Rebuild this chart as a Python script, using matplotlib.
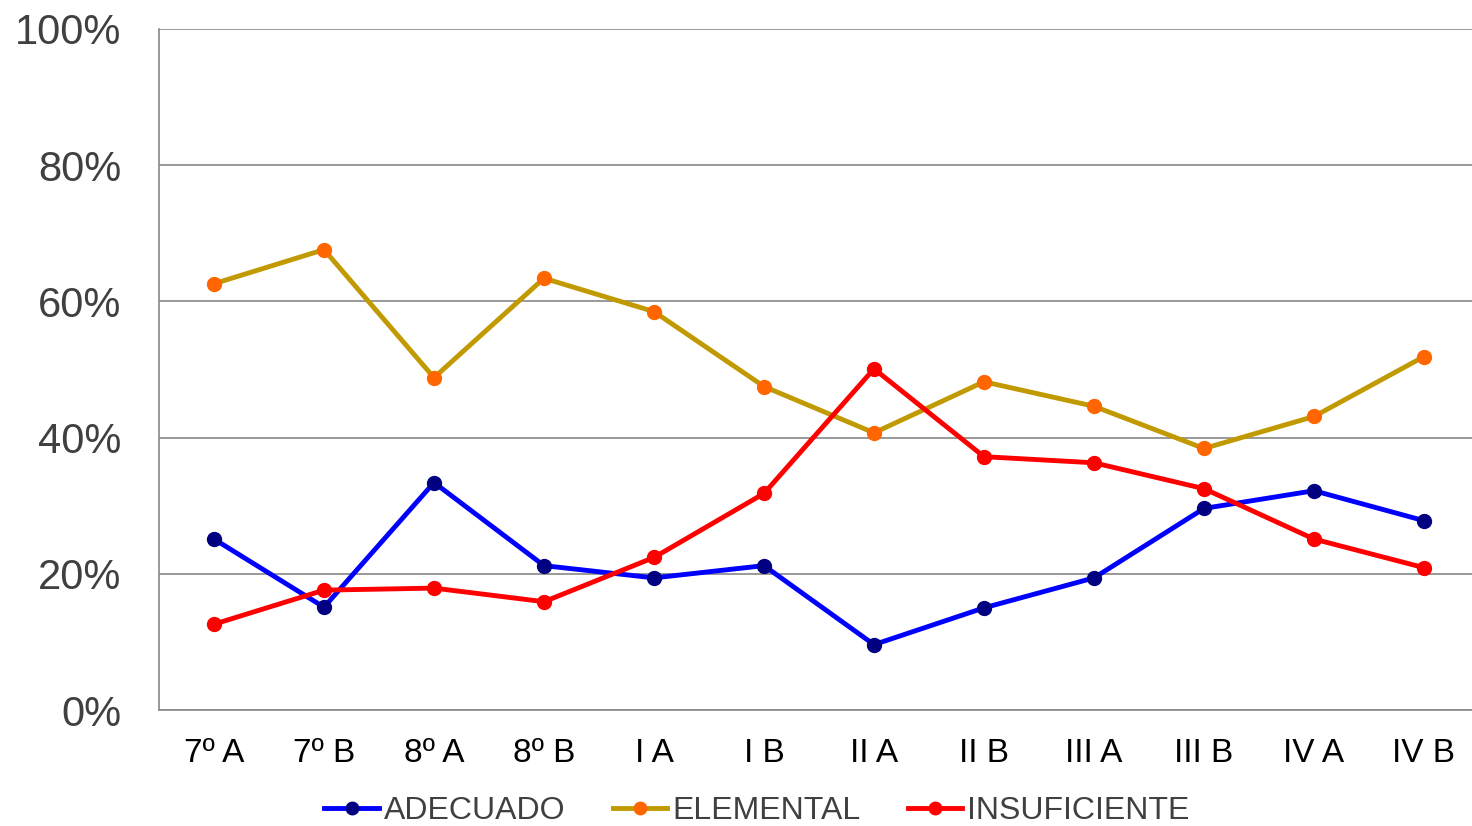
import matplotlib
matplotlib.use("Agg")
import matplotlib.pyplot as plt
from matplotlib.ticker import PercentFormatter

plt.rcParams["font.family"] = ["Liberation Sans", "DejaVu Sans"]

cursos = ["7º A", "7º B", "8º A", "8º B", "I A", "I B", "II A", "II B", "III A", "III B", "IV A", "IV B"]
adecuado = [25.1, 15.1, 33.4, 21.2, 19.4, 21.2, 9.6, 15.0, 19.4, 29.6, 32.2, 27.8]
elemental = [62.6, 67.6, 48.8, 63.4, 58.5, 47.5, 40.7, 48.2, 44.6, 38.4, 43.1, 51.9]
insuficiente = [12.6, 17.6, 17.9, 15.9, 22.4, 31.8, 50.1, 37.2, 36.3, 32.5, 25.1, 20.9]

fig = plt.figure(figsize=(14.72, 8.26), dpi=100)
ax = fig.add_axes([159 / 1472, 116 / 826, 1320 / 1472, 681 / 826])

x = range(len(cursos))
ax.plot(x, adecuado, "-o", color="#0000FF", mfc="#000080", mec="#000080", lw=3.5, ms=10, label="ADECUADO", zorder=3)
ax.plot(x, elemental, "-o", color="#C09A00", mfc="#FF6600", mec="#FF6600", lw=3.5, ms=10, label="ELEMENTAL", zorder=3)
ax.plot(x, insuficiente, "-o", color="#FF0000", mfc="#FF0000", mec="#FF0000", lw=3.5, ms=10, label="INSUFICIENTE", zorder=3)

ax.set_xlim(-0.5, len(cursos) - 0.5)
ax.set_ylim(0, 100)
ax.set_yticks([0, 20, 40, 60, 80, 100])
ax.yaxis.set_major_formatter(PercentFormatter(decimals=0))
ax.set_xticks(list(x))
ax.set_xticklabels(cursos)
ax.grid(axis="y", color="#888888", lw=1.2)
ax.set_axisbelow(True)
for s in ["top", "right"]:
    ax.spines[s].set_visible(False)
for s in ["left", "bottom"]:
    ax.spines[s].set_color("#888888")
    ax.spines[s].set_linewidth(1.2)
ax.tick_params(axis="both", length=0)
ax.tick_params(axis="y", labelsize=30, labelcolor="#404040", pad=27)
ax.tick_params(axis="x", labelsize=24, labelcolor="black", pad=20)

ax.legend(loc="center", bbox_to_anchor=(757 / 1472, 15 / 826), bbox_transform=fig.transFigure,
          ncol=3, frameon=False, fontsize=23, labelcolor="#404040",
          handlelength=1.7, handletextpad=0.15, columnspacing=1.5, markerscale=0.9)

fig.savefig("out.png", dpi=100)
